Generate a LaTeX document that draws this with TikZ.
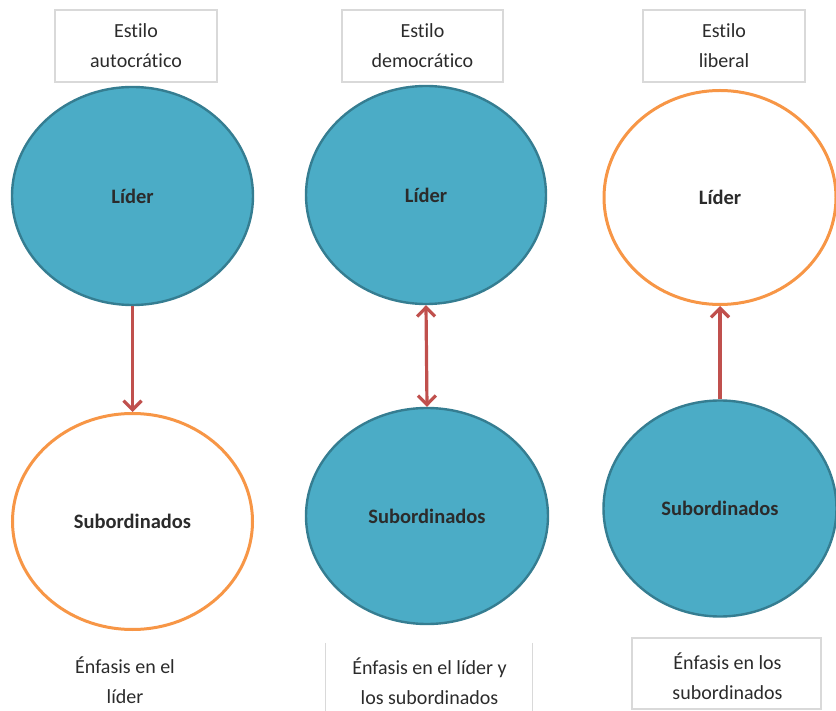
\documentclass[tikz,border=0pt]{standalone}
\usepackage{fontspec}
\setmainfont{Carlito}[Ligatures={NoCommon}]
\usetikzlibrary{shapes.geometric,arrows.meta}
\definecolor{tealfill}{HTML}{4BACC6}
\definecolor{tealedge}{HTML}{357D91}
\definecolor{orangeedge}{HTML}{F79646}
\definecolor{arrowred}{HTML}{C0504D}
\definecolor{boxgray}{HTML}{D9D9D9}
\definecolor{textgray}{HTML}{2B2B2B}
\begin{document}
\begin{tikzpicture}[x=1pt,y=-1pt,
  every node/.style={text=textgray,font=\fontsize{20}{30}\selectfont},
  titlebox/.style={draw=boxgray,line width=1.2pt,rectangle,inner sep=0pt,align=center},
  notebox/.style={draw=boxgray,line width=1.2pt,rectangle,inner sep=0pt},
  notetext/.style={align=center,inner sep=0pt},
  filledoval/.style={ellipse,inner sep=0pt,fill=tealfill,draw=tealedge,line width=2.4pt,font=\fontsize{20.5}{24}\selectfont\bfseries},
  emptyoval/.style={ellipse,inner sep=0pt,fill=white,draw=orangeedge,line width=3pt,font=\fontsize{20.5}{24}\selectfont\bfseries},
  link/.style={draw=arrowred,line width=3.2pt,line join=round,
    arrows={-Straight Barb[length=9pt,width=18pt,line width=3.2pt]}},
  duallink/.style={draw=arrowred,line width=3.2pt,line join=round,
    arrows={Straight Barb[length=9pt,width=18pt,line width=3.2pt]-Straight Barb[length=9pt,width=18pt,line width=3.2pt]}}
]
\useasboundingbox (0,0) rectangle (836,711);

% --- column 1: autocratic style
\node[titlebox,minimum width=162pt,minimum height=72pt] (T1) at (136,46) {Estilo\\autocrático};
\node[filledoval,minimum width=241pt,minimum height=218pt] (L1) at (132.5,196) {Líder};
\node[emptyoval,minimum width=240pt,minimum height=216pt] (S1) at (132.5,521.5) {Subordinados};
\draw[link] (L1.south) -- (S1.north);
\node[notetext] (N1) at (125,680) {Énfasis en el\\líder};

% --- column 2: democratic style
\node[titlebox,minimum width=161pt,minimum height=72pt] (T2) at (422.5,46) {Estilo\\democrático};
\node[filledoval,minimum width=240pt,minimum height=218pt] (L2) at (426,195) {Líder};
\node[filledoval,minimum width=242pt,minimum height=216pt] (S2) at (427,516) {Subordinados};
\draw[duallink] (L2.south) -- (S2.north);
\node[minimum width=206pt,minimum height=94pt,inner sep=0pt] (F2) at (429,690) {};
\draw[draw=boxgray,line width=1.2pt] (F2.north west) -- (F2.south west);
\draw[draw=boxgray,line width=1.2pt] (F2.north east) -- (F2.south east);
\node[notetext] (N2) at (429.5,681) {Énfasis en el líder y\\los subordinados};

% --- column 3: liberal style
\node[titlebox,minimum width=162pt,minimum height=72pt] (T3) at (724,46) {Estilo\\liberal};
\node[emptyoval,minimum width=232pt,minimum height=214pt] (L3) at (720,197.5) {Líder};
\node[filledoval,minimum width=233pt,minimum height=216pt] (S3) at (720,508.5) {Subordinados};
\draw[link] (S3.north) -- (L3.south);
\node[notebox,minimum width=189pt,minimum height=71pt] (F3) at (726.5,673.5) {};
\node[notetext] (N3) at (727.5,676) {Énfasis en los\\subordinados};
\end{tikzpicture}
\end{document}
